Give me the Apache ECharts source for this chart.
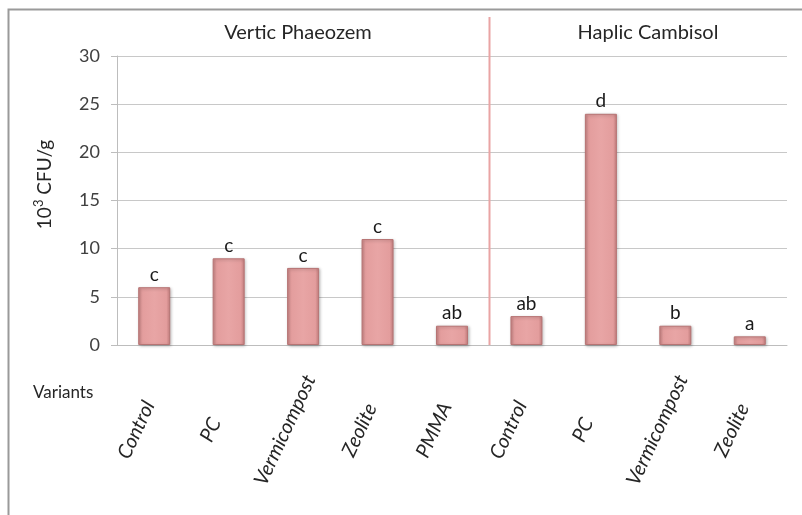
<!DOCTYPE html>
<html>
<head>
<meta charset="utf-8">
<script src="https://cdn.jsdelivr.net/npm/echarts@6/dist/echarts.min.js"></script>
<style>
  html, body { margin: 0; padding: 0; background: #fff; }
  #chart { width: 802px; height: 515px; }
</style>
</head>
<body>
<div id="chart"></div>
<script>
// Bacterial counts (10^3 CFU/g) per variant in two soil types
const categories = ['Control', 'PC', 'Vermicompost', 'Zeolite', 'PMMA',
                    'Control', 'PC', 'Vermicompost', 'Zeolite'];
const values = [6, 9, 8, 11, 2, 3, 24, 2, 0.9];
const letters = ['c', 'c', 'c', 'c', 'ab', 'ab', 'd', 'b', 'a'];
const soilGroups = ['Vertic Phaeozem', 'Haplic Cambisol'];
const groupSizes = [5, 4];
const yTicks = [0, 5, 10, 15, 20, 25, 30];

const FONT = 'Lato, "Open Sans", sans-serif';
const TEXT = '#262626';

const chart = echarts.init(document.getElementById('chart'), null, { renderer: 'canvas' });

const barFill = new echarts.graphic.LinearGradient(0, 0, 1, 0, [
  { offset: 0, color: '#c98585' },
  { offset: 0.12, color: '#e39d9d' },
  { offset: 0.5, color: '#e8a5a5' },
  { offset: 0.88, color: '#e39d9d' },
  { offset: 1, color: '#c47e7e' }
]);

// Plot grid plus a label-only grid, nudged left, for the slanted variant names
const plotLeft = 117, plotRight = 15, labelShift = 18;

chart.setOption({
  animation: false,
  backgroundColor: '#fff',
  grid: [
    { left: plotLeft, right: plotRight, top: 56, bottom: 170, containLabel: false },
    { left: plotLeft - labelShift, right: plotRight + labelShift, top: 56, bottom: 170, containLabel: false }
  ],
  xAxis: [{
    type: 'category',
    gridIndex: 0,
    data: categories,
    boundaryGap: true,
    axisLine: { show: true, lineStyle: { color: '#bdbdbd', width: 1 } },
    axisTick: { show: false },
    axisLabel: { show: false }
  }, {
    type: 'category',
    gridIndex: 1,
    data: categories,
    boundaryGap: true,
    axisLine: { show: false },
    axisTick: { show: false },
    splitLine: { show: false },
    axisLabel: {
      interval: 0,
      rotate: 65,
      align: 'center',
      verticalAlign: 'middle',
      margin: 85,
      fontFamily: FONT,
      fontStyle: 'italic',
      fontSize: 20,
      color: TEXT
    }
  }],
  yAxis: [{
    type: 'value',
    gridIndex: 0,
    min: yTicks[0],
    max: yTicks[yTicks.length - 1],
    interval: yTicks[1] - yTicks[0],
    name: '{b|10}{sup|3}{b| CFU/g}',
    nameLocation: 'middle',
    nameGap: 60,
    nameRotate: 90,
    nameTextStyle: {
      fontFamily: FONT,
      fontSize: 19,
      color: TEXT,
      padding: [0, 0, 0, 32],
      rich: {
        b: { fontFamily: FONT, fontSize: 19, color: TEXT },
        sup: { fontFamily: FONT, fontSize: 13, color: TEXT, verticalAlign: 'top', padding: [0, 0, 12, 0] }
      }
    },
    axisLine: { show: true, lineStyle: { color: '#bdbdbd', width: 1 } },
    axisTick: { show: true, length: 6, lineStyle: { color: '#bdbdbd' } },
    axisLabel: { fontFamily: FONT, fontSize: 18, color: '#404040', margin: 17 },
    splitLine: { show: true, lineStyle: { color: '#c8c8c8', width: 1 } }
  }, {
    type: 'value',
    gridIndex: 1,
    show: false,
    min: yTicks[0],
    max: yTicks[yTicks.length - 1]
  }],
  series: [{
    type: 'bar',
    xAxisIndex: 0,
    yAxisIndex: 0,
    data: values,
    barWidth: '43%',
    itemStyle: {
      color: barFill,
      borderColor: '#b77474',
      borderWidth: 1,
      shadowColor: 'rgba(0,0,0,0.25)',
      shadowBlur: 3,
      shadowOffsetX: 1,
      shadowOffsetY: 1
    },
    label: {
      show: true,
      position: 'top',
      distance: 3,
      formatter: p => letters[p.dataIndex],
      fontFamily: FONT,
      fontSize: 19,
      color: '#1a1a1a'
    }
  }]
});

// Frame, group separator, group titles and the "Variants" caption
function drawOverlay() {
  const w = chart.getWidth();
  const h = chart.getHeight();
  const first = groupSizes[0];
  const xa = chart.convertToPixel({ xAxisIndex: 0 }, first - 1);
  const xb = chart.convertToPixel({ xAxisIndex: 0 }, first);
  const sepX = Math.round((xa + xb) / 2) + 0.5;
  const y0 = chart.convertToPixel({ yAxisIndex: 0 }, 0);
  chart.setOption({
    graphic: [
      { type: 'polyline', shape: { points: [[8.5, h], [8.5, 9.5], [w, 9.5]] },
        style: { stroke: '#9a9a9a', lineWidth: 2, fill: null }, silent: true },
      { type: 'line', shape: { x1: sepX, y1: 17, x2: sepX, y2: y0 },
        style: { stroke: '#e9a4a4', lineWidth: 2 }, silent: true },
      { type: 'text', x: 298, y: 33,
        style: { text: soilGroups[0], font: '20px ' + FONT, fill: TEXT, align: 'center', verticalAlign: 'middle' } },
      { type: 'text', x: 648, y: 33,
        style: { text: soilGroups[1], font: '20px ' + FONT, fill: TEXT, align: 'center', verticalAlign: 'middle' } },
      { type: 'text', x: 33, y: 393,
        style: { text: 'Variants', font: '17px ' + FONT, fill: TEXT, align: 'left', verticalAlign: 'middle' } }
    ]
  });
}
drawOverlay();
</script>
</body>
</html>
